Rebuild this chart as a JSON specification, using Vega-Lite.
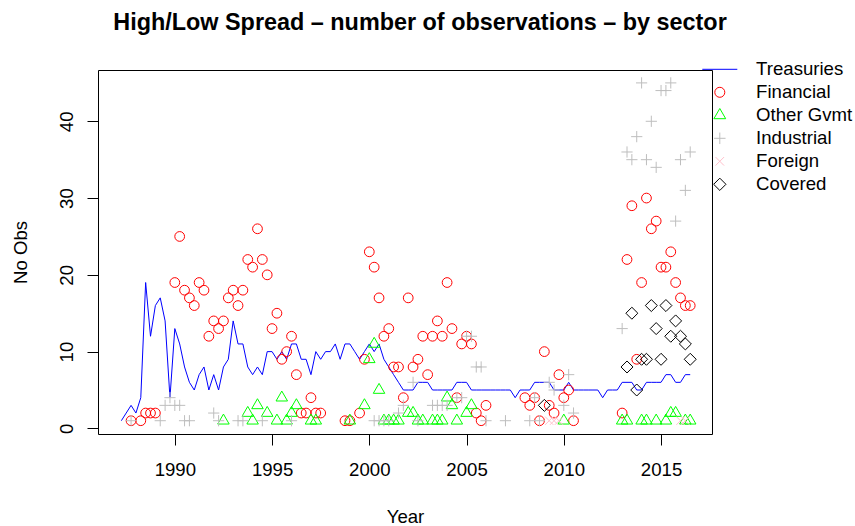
{
  "$schema": "https://vega.github.io/schema/vega-lite/v6.json",
  "autosize": "none",
  "width": 614,
  "height": 364,
  "padding": {"left": 98, "top": 70, "right": 143, "bottom": 92},
  "config": {
    "font": "Liberation Sans",
    "view": {"stroke": "black", "strokeWidth": 1},
    "axis": {"grid": false, "domain": false, "tickColor": "black", "tickSize": 11, "labelFontSize": 18.6, "labelColor": "black", "titleFontSize": 18.6, "titleFontWeight": "normal", "titleColor": "black", "labelFont": "Liberation Sans", "titleFont": "Liberation Sans"}
  },
  "title": {"text": "High/Low Spread – number of observations – by sector", "fontSize": 23.4, "fontWeight": "bold", "font": "Liberation Sans", "color": "black", "anchor": "middle", "offset": 24.5, "dx": 15},
  "datasets": {
    "treasuries": [
      {"year":1987.25,"obs":1},{"year":1987.5,"obs":2},{"year":1987.75,"obs":3},{"year":1988.0,"obs":2},{"year":1988.25,"obs":4},{"year":1988.5,"obs":19},{"year":1988.75,"obs":12},{"year":1989.0,"obs":16},{"year":1989.25,"obs":17},{"year":1989.5,"obs":14},{"year":1989.75,"obs":4},{"year":1990.0,"obs":13},{"year":1990.25,"obs":11},{"year":1990.5,"obs":8},{"year":1990.75,"obs":6},{"year":1991.0,"obs":5},{"year":1991.25,"obs":7},{"year":1991.5,"obs":8},{"year":1991.75,"obs":5},{"year":1992.0,"obs":7},{"year":1992.25,"obs":5},{"year":1992.5,"obs":8},{"year":1992.75,"obs":9},{"year":1993.0,"obs":14},{"year":1993.25,"obs":11},{"year":1993.5,"obs":11},{"year":1993.75,"obs":8},{"year":1994.0,"obs":7},{"year":1994.25,"obs":8},{"year":1994.5,"obs":7},{"year":1994.75,"obs":10},{"year":1995.0,"obs":10},{"year":1995.25,"obs":9},{"year":1995.5,"obs":10},{"year":1995.75,"obs":9},{"year":1996.0,"obs":11},{"year":1996.25,"obs":11},{"year":1996.5,"obs":9},{"year":1996.75,"obs":9},{"year":1997.0,"obs":7},{"year":1997.25,"obs":10},{"year":1997.5,"obs":9},{"year":1997.75,"obs":10},{"year":1998.0,"obs":10},{"year":1998.25,"obs":11},{"year":1998.5,"obs":9},{"year":1998.75,"obs":11},{"year":1999.0,"obs":11},{"year":1999.25,"obs":10},{"year":1999.5,"obs":9},{"year":1999.75,"obs":10},{"year":2000.0,"obs":11},{"year":2000.25,"obs":10},{"year":2000.5,"obs":11},{"year":2000.75,"obs":9},{"year":2001.0,"obs":8},{"year":2001.25,"obs":7},{"year":2001.5,"obs":6},{"year":2001.75,"obs":5},{"year":2002.0,"obs":5},{"year":2002.25,"obs":5},{"year":2002.5,"obs":6},{"year":2002.75,"obs":6},{"year":2003.0,"obs":6},{"year":2003.25,"obs":5},{"year":2003.5,"obs":5},{"year":2003.75,"obs":5},{"year":2004.0,"obs":5},{"year":2004.25,"obs":5},{"year":2004.5,"obs":6},{"year":2004.75,"obs":6},{"year":2005.0,"obs":6},{"year":2005.25,"obs":5},{"year":2005.5,"obs":5},{"year":2005.75,"obs":5},{"year":2006.0,"obs":5},{"year":2006.25,"obs":5},{"year":2006.5,"obs":5},{"year":2006.75,"obs":5},{"year":2007.0,"obs":5},{"year":2007.25,"obs":5},{"year":2007.5,"obs":4},{"year":2007.75,"obs":5},{"year":2008.0,"obs":5},{"year":2008.25,"obs":5},{"year":2008.5,"obs":6},{"year":2008.75,"obs":6},{"year":2009.0,"obs":6},{"year":2009.25,"obs":6},{"year":2009.5,"obs":5},{"year":2009.75,"obs":5},{"year":2010.0,"obs":5},{"year":2010.25,"obs":6},{"year":2010.5,"obs":5},{"year":2010.75,"obs":5},{"year":2011.0,"obs":5},{"year":2011.25,"obs":5},{"year":2011.5,"obs":5},{"year":2011.75,"obs":5},{"year":2012.0,"obs":4},{"year":2012.25,"obs":5},{"year":2012.5,"obs":5},{"year":2012.75,"obs":5},{"year":2013.0,"obs":6},{"year":2013.25,"obs":6},{"year":2013.5,"obs":6},{"year":2013.75,"obs":5},{"year":2014.0,"obs":5},{"year":2014.25,"obs":6},{"year":2014.5,"obs":6},{"year":2014.75,"obs":6},{"year":2015.0,"obs":6},{"year":2015.25,"obs":7},{"year":2015.5,"obs":7},{"year":2015.75,"obs":6},{"year":2016.0,"obs":6},{"year":2016.25,"obs":7},{"year":2016.5,"obs":7}
    ],
    "points": [
      {"sector":"Financial","year":1987.75,"obs":1},{"sector":"Financial","year":1988.25,"obs":1},{"sector":"Financial","year":1988.5,"obs":2},{"sector":"Financial","year":1988.75,"obs":2},{"sector":"Financial","year":1989.0,"obs":2},
      {"sector":"Financial","year":1990.0,"obs":19},{"sector":"Financial","year":1990.25,"obs":25},{"sector":"Financial","year":1990.5,"obs":18},{"sector":"Financial","year":1990.75,"obs":17},{"sector":"Financial","year":1991.0,"obs":16},{"sector":"Financial","year":1991.25,"obs":19},{"sector":"Financial","year":1991.5,"obs":18},{"sector":"Financial","year":1991.75,"obs":12},{"sector":"Financial","year":1992.0,"obs":14},{"sector":"Financial","year":1992.25,"obs":13},{"sector":"Financial","year":1992.5,"obs":14},{"sector":"Financial","year":1992.75,"obs":17},{"sector":"Financial","year":1993.0,"obs":18},{"sector":"Financial","year":1993.25,"obs":16},{"sector":"Financial","year":1993.5,"obs":18},{"sector":"Financial","year":1993.75,"obs":22},{"sector":"Financial","year":1994.0,"obs":21},{"sector":"Financial","year":1994.25,"obs":26},{"sector":"Financial","year":1994.5,"obs":22},{"sector":"Financial","year":1994.75,"obs":20},{"sector":"Financial","year":1995.0,"obs":13},{"sector":"Financial","year":1995.25,"obs":15},{"sector":"Financial","year":1995.5,"obs":9},{"sector":"Financial","year":1995.75,"obs":10},{"sector":"Financial","year":1996.0,"obs":12},{"sector":"Financial","year":1996.25,"obs":7},{"sector":"Financial","year":1996.5,"obs":2},{"sector":"Financial","year":1996.75,"obs":2},{"sector":"Financial","year":1997.0,"obs":4},{"sector":"Financial","year":1997.25,"obs":2},{"sector":"Financial","year":1997.5,"obs":2},
      {"sector":"Financial","year":1998.75,"obs":1},{"sector":"Financial","year":1999.0,"obs":1},{"sector":"Financial","year":1999.5,"obs":2},{"sector":"Financial","year":1999.75,"obs":9},{"sector":"Financial","year":2000.0,"obs":23},{"sector":"Financial","year":2000.25,"obs":21},{"sector":"Financial","year":2000.5,"obs":17},{"sector":"Financial","year":2000.75,"obs":12},{"sector":"Financial","year":2001.0,"obs":13},{"sector":"Financial","year":2001.25,"obs":8},{"sector":"Financial","year":2001.5,"obs":8},{"sector":"Financial","year":2001.75,"obs":4},{"sector":"Financial","year":2002.0,"obs":17},{"sector":"Financial","year":2002.25,"obs":8},{"sector":"Financial","year":2002.5,"obs":9},{"sector":"Financial","year":2002.75,"obs":12},{"sector":"Financial","year":2003.0,"obs":7},{"sector":"Financial","year":2003.25,"obs":12},{"sector":"Financial","year":2003.5,"obs":14},{"sector":"Financial","year":2003.75,"obs":12},{"sector":"Financial","year":2004.0,"obs":19},{"sector":"Financial","year":2004.25,"obs":13},{"sector":"Financial","year":2004.5,"obs":4},{"sector":"Financial","year":2004.75,"obs":11},{"sector":"Financial","year":2005.0,"obs":12},{"sector":"Financial","year":2005.25,"obs":11},{"sector":"Financial","year":2005.5,"obs":2},{"sector":"Financial","year":2005.75,"obs":1},{"sector":"Financial","year":2006.0,"obs":3},
      {"sector":"Financial","year":2008.0,"obs":4},{"sector":"Financial","year":2008.25,"obs":3},{"sector":"Financial","year":2008.5,"obs":4},{"sector":"Financial","year":2008.75,"obs":1},{"sector":"Financial","year":2009.0,"obs":10},{"sector":"Financial","year":2009.25,"obs":3},{"sector":"Financial","year":2009.5,"obs":2},{"sector":"Financial","year":2009.75,"obs":7},{"sector":"Financial","year":2010.0,"obs":4},{"sector":"Financial","year":2010.25,"obs":5},{"sector":"Financial","year":2010.5,"obs":1},
      {"sector":"Financial","year":2013.0,"obs":2},{"sector":"Financial","year":2013.25,"obs":22},{"sector":"Financial","year":2013.5,"obs":29},{"sector":"Financial","year":2013.75,"obs":9},{"sector":"Financial","year":2014.0,"obs":19},{"sector":"Financial","year":2014.25,"obs":30},{"sector":"Financial","year":2014.5,"obs":26},{"sector":"Financial","year":2014.75,"obs":27},{"sector":"Financial","year":2015.0,"obs":21},{"sector":"Financial","year":2015.25,"obs":21},{"sector":"Financial","year":2015.5,"obs":23},{"sector":"Financial","year":2015.75,"obs":19},{"sector":"Financial","year":2016.0,"obs":17},{"sector":"Financial","year":2016.25,"obs":16},{"sector":"Financial","year":2016.5,"obs":16},

      {"sector":"Other Gvmt","year":1992.5,"obs":1},{"sector":"Other Gvmt","year":1993.75,"obs":2},{"sector":"Other Gvmt","year":1994.0,"obs":1},{"sector":"Other Gvmt","year":1994.25,"obs":3},{"sector":"Other Gvmt","year":1994.75,"obs":2},{"sector":"Other Gvmt","year":1995.25,"obs":1},{"sector":"Other Gvmt","year":1995.5,"obs":4},{"sector":"Other Gvmt","year":1995.75,"obs":1},{"sector":"Other Gvmt","year":1996.0,"obs":2},{"sector":"Other Gvmt","year":1996.25,"obs":3},{"sector":"Other Gvmt","year":1997.0,"obs":1},{"sector":"Other Gvmt","year":1997.25,"obs":1},{"sector":"Other Gvmt","year":1999.0,"obs":1},{"sector":"Other Gvmt","year":1999.75,"obs":3},{"sector":"Other Gvmt","year":2000.0,"obs":9},{"sector":"Other Gvmt","year":2000.25,"obs":11},{"sector":"Other Gvmt","year":2000.5,"obs":5},{"sector":"Other Gvmt","year":2000.75,"obs":1},{"sector":"Other Gvmt","year":2001.0,"obs":1},{"sector":"Other Gvmt","year":2001.25,"obs":1},{"sector":"Other Gvmt","year":2001.5,"obs":1},{"sector":"Other Gvmt","year":2002.0,"obs":2},{"sector":"Other Gvmt","year":2002.25,"obs":2},{"sector":"Other Gvmt","year":2002.5,"obs":1},{"sector":"Other Gvmt","year":2002.75,"obs":1},{"sector":"Other Gvmt","year":2003.25,"obs":1},{"sector":"Other Gvmt","year":2003.5,"obs":1},{"sector":"Other Gvmt","year":2003.75,"obs":1},{"sector":"Other Gvmt","year":2004.0,"obs":4},{"sector":"Other Gvmt","year":2004.25,"obs":3},{"sector":"Other Gvmt","year":2004.5,"obs":1},{"sector":"Other Gvmt","year":2005.0,"obs":2},{"sector":"Other Gvmt","year":2005.25,"obs":3},{"sector":"Other Gvmt","year":2010.0,"obs":1},{"sector":"Other Gvmt","year":2013.0,"obs":1},{"sector":"Other Gvmt","year":2013.25,"obs":1},{"sector":"Other Gvmt","year":2014.0,"obs":1},{"sector":"Other Gvmt","year":2014.25,"obs":1},{"sector":"Other Gvmt","year":2014.75,"obs":1},{"sector":"Other Gvmt","year":2015.25,"obs":1},{"sector":"Other Gvmt","year":2015.5,"obs":2},{"sector":"Other Gvmt","year":2015.75,"obs":2},{"sector":"Other Gvmt","year":2016.25,"obs":1},{"sector":"Other Gvmt","year":2016.5,"obs":1},

      {"sector":"Industrial","year":1987.75,"obs":1},{"sector":"Industrial","year":1989.25,"obs":1},{"sector":"Industrial","year":1989.5,"obs":3},{"sector":"Industrial","year":1989.75,"obs":4},{"sector":"Industrial","year":1990.0,"obs":3},{"sector":"Industrial","year":1990.25,"obs":3},{"sector":"Industrial","year":1990.5,"obs":1},{"sector":"Industrial","year":1990.75,"obs":1},{"sector":"Industrial","year":1992.0,"obs":2},{"sector":"Industrial","year":1992.25,"obs":1},{"sector":"Industrial","year":1993.25,"obs":1},{"sector":"Industrial","year":1993.5,"obs":1},{"sector":"Industrial","year":1994.5,"obs":1},{"sector":"Industrial","year":1996.0,"obs":1},{"sector":"Industrial","year":2000.25,"obs":1},{"sector":"Industrial","year":2000.5,"obs":1},{"sector":"Industrial","year":2000.75,"obs":1},{"sector":"Industrial","year":2001.0,"obs":1},{"sector":"Industrial","year":2001.5,"obs":2},{"sector":"Industrial","year":2001.75,"obs":3},{"sector":"Industrial","year":2002.25,"obs":6},{"sector":"Industrial","year":2002.5,"obs":1},{"sector":"Industrial","year":2003.25,"obs":3},{"sector":"Industrial","year":2003.5,"obs":3},{"sector":"Industrial","year":2003.75,"obs":3},{"sector":"Industrial","year":2004.0,"obs":3},{"sector":"Industrial","year":2004.5,"obs":4},{"sector":"Industrial","year":2004.75,"obs":4},{"sector":"Industrial","year":2005.0,"obs":12},{"sector":"Industrial","year":2005.25,"obs":12},{"sector":"Industrial","year":2005.5,"obs":8},{"sector":"Industrial","year":2005.75,"obs":8},{"sector":"Industrial","year":2006.0,"obs":1},{"sector":"Industrial","year":2007.0,"obs":1},{"sector":"Industrial","year":2008.25,"obs":1},{"sector":"Industrial","year":2008.5,"obs":4},{"sector":"Industrial","year":2008.75,"obs":1},{"sector":"Industrial","year":2009.25,"obs":6},{"sector":"Industrial","year":2009.5,"obs":5},{"sector":"Industrial","year":2010.0,"obs":3},{"sector":"Industrial","year":2010.25,"obs":7},{"sector":"Industrial","year":2010.5,"obs":2},{"sector":"Industrial","year":2013.0,"obs":13},{"sector":"Industrial","year":2013.25,"obs":36},{"sector":"Industrial","year":2013.5,"obs":35},{"sector":"Industrial","year":2013.75,"obs":38},{"sector":"Industrial","year":2014.0,"obs":45},{"sector":"Industrial","year":2014.25,"obs":35},{"sector":"Industrial","year":2014.5,"obs":40},{"sector":"Industrial","year":2014.75,"obs":34},{"sector":"Industrial","year":2015.0,"obs":44},{"sector":"Industrial","year":2015.25,"obs":44},{"sector":"Industrial","year":2015.5,"obs":45},{"sector":"Industrial","year":2015.75,"obs":27},{"sector":"Industrial","year":2016.0,"obs":35},{"sector":"Industrial","year":2016.25,"obs":31},{"sector":"Industrial","year":2016.5,"obs":36},

      {"sector":"Foreign","year":2009.25,"obs":1},{"sector":"Foreign","year":2009.5,"obs":1},{"sector":"Foreign","year":2009.75,"obs":1},{"sector":"Foreign","year":2016.0,"obs":1},{"sector":"Foreign","year":2016.25,"obs":1},

      {"sector":"Covered","year":2009.0,"obs":3},{"sector":"Covered","year":2013.25,"obs":8},{"sector":"Covered","year":2013.5,"obs":15},{"sector":"Covered","year":2013.75,"obs":5},{"sector":"Covered","year":2014.0,"obs":9},{"sector":"Covered","year":2014.25,"obs":9},{"sector":"Covered","year":2014.5,"obs":16},{"sector":"Covered","year":2014.75,"obs":13},{"sector":"Covered","year":2015.0,"obs":9},{"sector":"Covered","year":2015.25,"obs":16},{"sector":"Covered","year":2015.5,"obs":12},{"sector":"Covered","year":2015.75,"obs":14},{"sector":"Covered","year":2016.0,"obs":12},{"sector":"Covered","year":2016.25,"obs":11},{"sector":"Covered","year":2016.5,"obs":9}
    ]
  },
  "layer": [
    {
      "data": {"name": "treasuries"},
      "mark": {"type": "line", "color": "#0000FF", "strokeWidth": 1, "clip": false},
      "encoding": {
        "x": {"field": "year", "type": "quantitative", "scale": {"domain": [1986.05, 2017.62], "nice": false, "zero": false},
              "axis": {"values": [1990, 1995, 2000, 2005, 2010, 2015], "format": "d", "title": "Year", "labelPadding": 15, "labelBaseline": "top", "titleBaseline": "alphabetic", "titleY": 88.3, "titleAnchor": "middle"}},
        "y": {"field": "obs", "type": "quantitative", "scale": {"domain": [-0.73, 46.68], "nice": false, "zero": false},
              "axis": {"values": [0, 10, 20, 30, 40], "title": "No Obs", "labelAngle": -90, "labelAlign": "center", "labelBaseline": "alphabetic", "labelPadding": 15, "titleAngle": -90, "titleBaseline": "alphabetic", "titleX": -71.6, "titleAnchor": "middle"}}
      }
    },
    {
      "data": {"name": "points"},
      "mark": {"type": "point", "filled": false, "strokeWidth": 1, "size": 95, "opacity": 1},
      "encoding": {
        "x": {"field": "year", "type": "quantitative"},
        "y": {"field": "obs", "type": "quantitative"},
        "color": {"field": "sector", "type": "nominal",
          "scale": {"domain": ["Treasuries", "Financial", "Other Gvmt", "Industrial", "Foreign", "Covered"], "range": ["#0000FF", "#FF0000", "#00FF00", "#BEBEBE", "#FFC0CB", "#000000"]},
          "legend": {"orient": "none", "legendX": 612.5, "legendY": -10, "title": null, "labelFontSize": 18.6, "labelColor": "black", "labelFont": "Liberation Sans", "symbolSize": 100, "symbolStrokeWidth": 1, "labelOffset": 27, "rowPadding": 4.0, "padding": 0, "symbolOpacity": 1, "labelLimit": 200}},
        "shape": {"field": "sector", "type": "nominal",
          "scale": {"domain": ["Treasuries", "Financial", "Other Gvmt", "Industrial", "Foreign", "Covered"], "range": ["M-3.5,0H3.5", "circle", "M0,-1.36L1.18,0.68L-1.18,0.68Z", "M-1.15,0H1.15M0,-1.15V1.15", "M-0.85,-0.85L0.85,0.85M-0.85,0.85L0.85,-0.85", "M0,-1.23L1.23,0L0,1.23L-1.23,0Z"]}}
      }
    }
  ]
}
